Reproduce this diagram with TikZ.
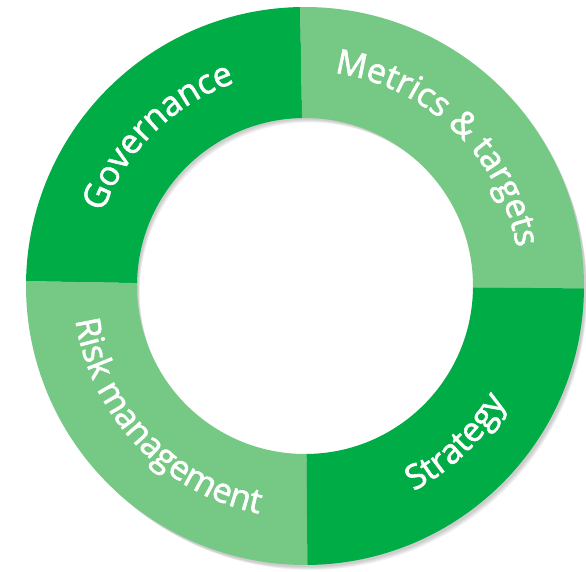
\documentclass[tikz,border=0pt]{standalone}
\usepackage{fontspec}
\setmainfont{Open Sans}
\newfontfamily\ringface{Open Sans}[FakeBold=1.8]
\usetikzlibrary{decorations.text}
\definecolor{tcfdark}{RGB}{0,172,69}
\definecolor{tcflight}{RGB}{118,201,132}
\newcommand{\ringfont}{\ringface\fontsize{34}{34}\selectfont\color{white}}
\tikzset{
  ringshadow/.style={black,opacity=0.035,even odd rule},
  ringlabel/.style={decorate,decoration={text along path,text align=center,text={|\ringfont|#1}}},
}

\begin{document}
\begin{tikzpicture}[x=1pt,y=1pt]
  \useasboundingbox (-305,-285) rectangle (281,286);
  % soft shadow under the ring
  \foreach \k in {1,...,6}
    \fill[ringshadow] (1+\k*0.7,-1-\k*1.0) circle[radius=279.5-\k*0.4]
                      (1+\k*0.7,-1-\k*1.0) circle[radius=168+\k*0.4];
  % four quarters of the ring
  \fill[tcfdark] (91:279) arc[start angle=91,end angle=179,radius=279]
    -- (179:168) arc[start angle=179,end angle=91,radius=168] -- cycle;
  \fill[tcflight] (-0.5:279) arc[start angle=-0.5,end angle=91,radius=279]
    -- (91:168) arc[start angle=91,end angle=-0.5,radius=168] -- cycle;
  \fill[tcflight] (179:279) arc[start angle=179,end angle=270.5,radius=279]
    -- (270.5:168) arc[start angle=270.5,end angle=179,radius=168] -- cycle;
  \fill[tcfdark] (270.5:279) arc[start angle=270.5,end angle=359.5,radius=279]
    -- (359.5:168) arc[start angle=359.5,end angle=270.5,radius=168] -- cycle;
  % labels set along the arcs
  \path[ringlabel={Governance}] (179.5:215) arc[start angle=179.5,end angle=89.5,radius=215];
  \path[ringlabel={Metrics {\&} targets}] (91.2:215) arc[start angle=91.2,end angle=1.2,radius=215];
  \path[ringlabel={Risk management}] (178.5:232) arc[start angle=178.5,end angle=268.5,radius=232];
  \path[ringlabel={Strategy}] (269:232) arc[start angle=269,end angle=359,radius=232];
\end{tikzpicture}
\end{document}
